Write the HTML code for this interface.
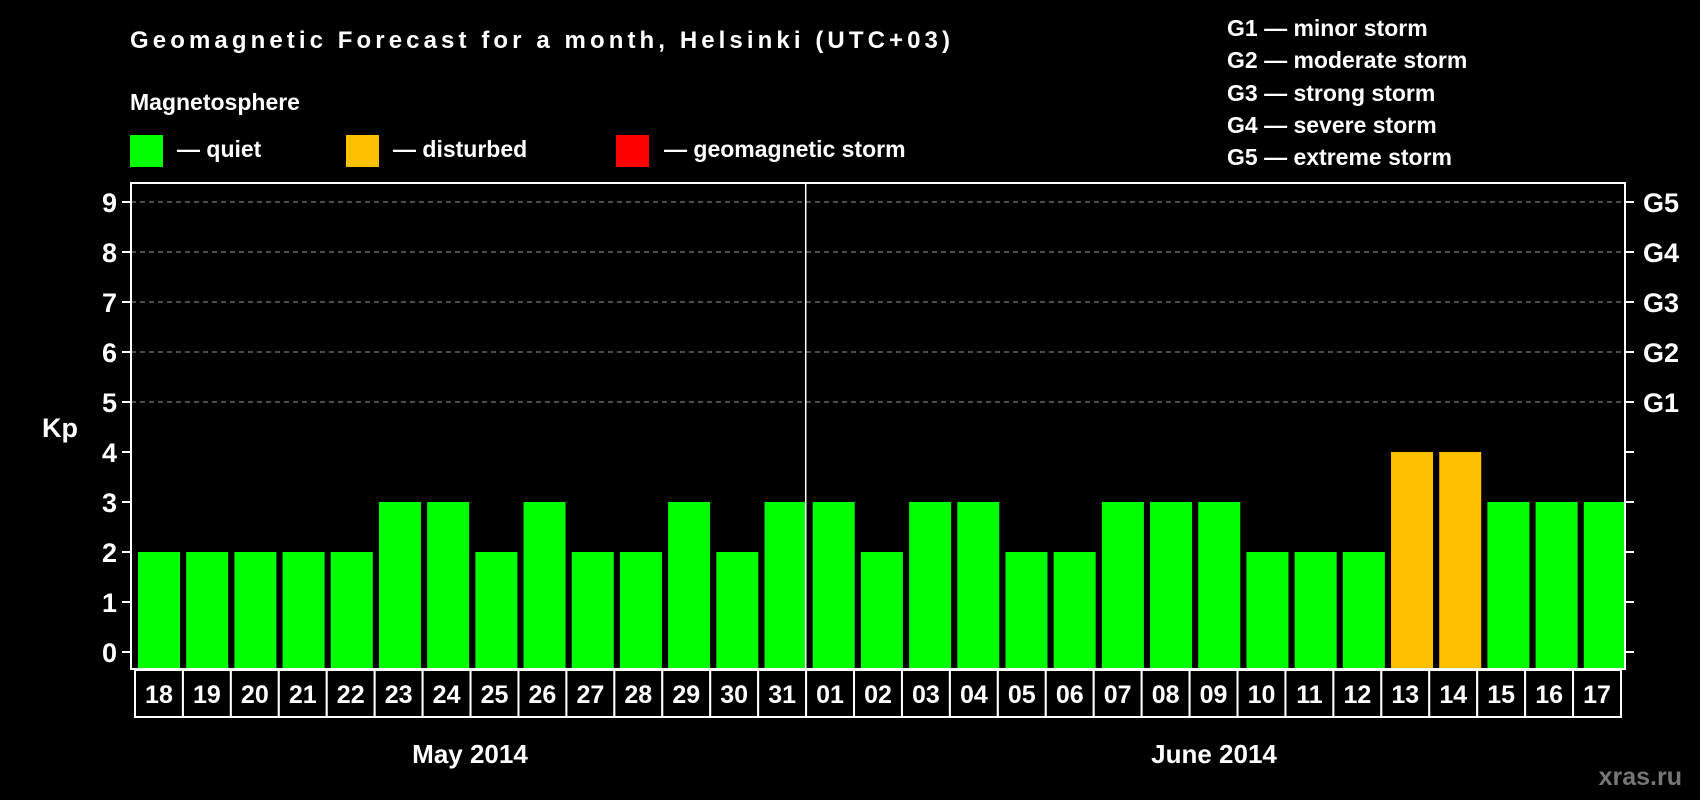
<!DOCTYPE html>
<html><head><meta charset="utf-8"><style>
html,body{margin:0;padding:0;background:#000;}
svg{display:block;font-family:"Liberation Sans",sans-serif;font-weight:bold;}
</style></head><body>
<svg id="chart" width="1700" height="800" viewBox="0 0 1700 800">
<text x="130" y="48" fill="#fff" font-size="24" textLength="820">Geomagnetic Forecast for a month, Helsinki (UTC+03)</text>
<text x="130" y="110" fill="#fff" font-size="23">Magnetosphere</text>
<g><rect x="130" y="135" width="33" height="32" fill="#00ff00"/><text x="177" y="157" fill="#fff" font-size="23">— quiet</text></g>
<g><rect x="346" y="135" width="33" height="32" fill="#ffc000"/><text x="393" y="157" fill="#fff" font-size="23">— disturbed</text></g>
<g><rect x="616" y="135" width="33" height="32" fill="#ff0000"/><text x="664" y="157" fill="#fff" font-size="23">— geomagnetic storm</text></g>
<g fill="#fff" font-size="23">
<text x="1227" y="36">G1 — minor storm</text>
<text x="1227" y="68">G2 — moderate storm</text>
<text x="1227" y="101">G3 — strong storm</text>
<text x="1227" y="133">G4 — severe storm</text>
<text x="1227" y="165">G5 — extreme storm</text>
</g>
<text x="42" y="437" fill="#fff" font-size="27">Kp</text>
<text x="1682" y="785" fill="#777" font-size="25" text-anchor="end">xras.ru</text>
<text x="470" y="763" fill="#fff" font-size="26" text-anchor="middle">May 2014</text>
<text x="1214" y="763" fill="#fff" font-size="26" text-anchor="middle">June 2014</text>
<g id="plot"></g>
</svg>
<script>
const days = ["18","19","20","21","22","23","24","25","26","27","28","29","30","31","01","02","03","04","05","06","07","08","09","10","11","12","13","14","15","16","17"];
const kpValues = [2,2,2,2,2,3,3,2,3,2,2,3,2,3,3,2,3,3,2,2,3,3,3,2,2,2,4,4,3,3,3];
const yTicks = [0,1,2,3,4,5,6,7,8,9];
const gLabels = ["G1","G2","G3","G4","G5"];
const gLevels = [5,6,7,8,9];

const NS = "http://www.w3.org/2000/svg";
const g = document.getElementById('plot');
const L = 131, R = 1625, T = 183, B = 669;
const slot = (R - L) / days.length;
const y = v => 652 - v * 50;
const x = i => L + i * slot;
function mk(tag, attrs) { const e = document.createElementNS(NS, tag); for (const k in attrs) e.setAttribute(k, attrs[k]); g.appendChild(e); return e; }
function color(v) { return v >= 5 ? "#ff0000" : (v >= 4 ? "#ffc000" : "#00ff00"); }

yTicks.forEach(t => {
  if (t >= 5) {
    const gl = mk('line', {x1: L, x2: R, y1: y(t), y2: y(t), stroke: "#999", "stroke-width": 1, "stroke-dasharray": "5,4"});
    
    
  }
  const tk = mk('line', {x1: L - 9, x2: L, y1: y(t), y2: y(t), stroke: "#fff", "stroke-width": 2});
  
  
  const tk2 = mk('line', {x1: R, x2: R + 9, y1: y(t), y2: y(t), stroke: "#fff", "stroke-width": 2});
  
  
  const lb = mk('text', {x: L - 14, y: y(t) + 10, fill: "#fff", "font-size": 27, "text-anchor": "end"});
  lb.textContent = t;
  
  
});
gLabels.forEach((s, i) => {
  const lb = mk('text', {x: 1643, y: y(gLevels[i]) + 10, fill: "#fff", "font-size": 27});
  lb.textContent = s;
  
  
});
kpValues.forEach((v, i) => {
  const b = mk('rect', {x: x(i) + 7, y: y(v), width: 42, height: B - y(v), fill: color(v)});
  
  
});
const frame = mk('rect', {x: L, y: T, width: R - L, height: B - T, fill: "none", stroke: "#fff", "stroke-width": 2});


const sep = mk('line', {x1: x(14), x2: x(14), y1: T, y2: B, stroke: "#fff", "stroke-width": 1.5});


const bx0 = 135, bx1 = 1621, bw = (bx1 - bx0) / days.length;
days.forEach((d, i) => {
  const c = mk('rect', {x: bx0 + i * bw, y: 670, width: bw, height: 47, fill: "#000", stroke: "#fff", "stroke-width": 2});
  
  
  const t = mk('text', {x: bx0 + i * bw + bw / 2, y: 703, fill: "#fff", "font-size": 25, "text-anchor": "middle"});
  t.textContent = d;
  
  
});
</script>
</body></html>
